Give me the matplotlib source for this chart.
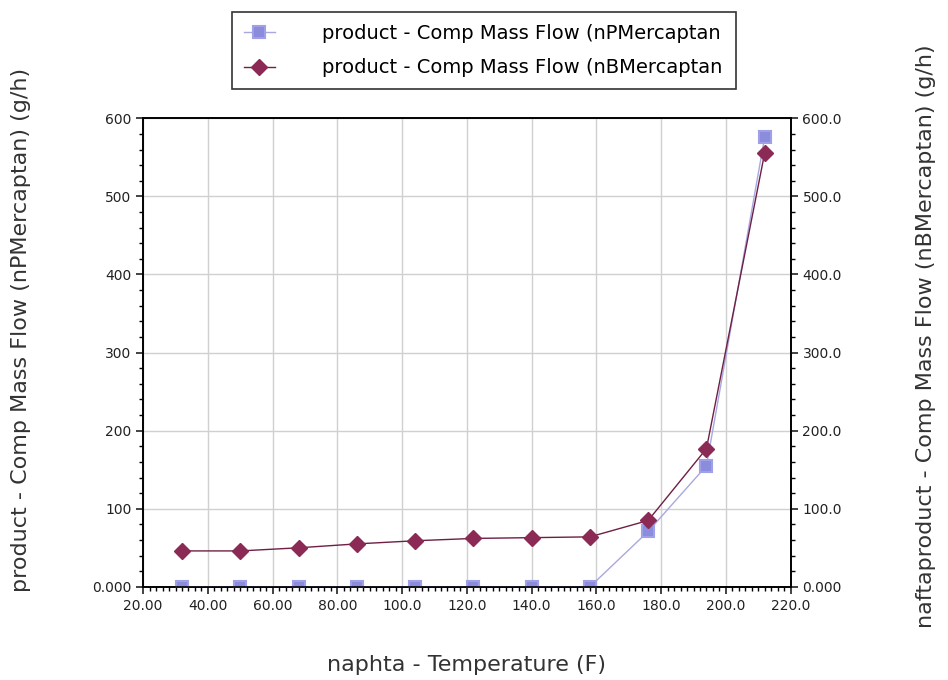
import matplotlib
matplotlib.use("Agg")
import matplotlib.pyplot as plt
from matplotlib.ticker import MultipleLocator, FixedFormatter, FixedLocator

# naphta temperature (F)
temps = [32, 50, 68, 86, 104, 122, 140, 158, 176, 194, 212]
# comp mass flow (g/h)
np_merc = [0, 0, 0, 0, 0, 0, 0, 0, 71, 155, 576]
nb_merc = [46, 46, 50, 55, 59, 62, 63, 64, 85, 177, 556]

x_ticks = [20, 40, 60, 80, 100, 120, 140, 160, 180, 200, 220]
x_labels = ["20.00", "40.00", "60.00", "80.00", "100.0", "120.0", "140.0",
            "160.0", "180.0", "200.0", "220.0"]
y_ticks = [0, 100, 200, 300, 400, 500, 600]
yl_labels = ["0.000", "100", "200", "300", "400", "500", "600"]
yr_labels = ["0.000", "100.0", "200.0", "300.0", "400.0", "500.0", "600.0"]

fig = plt.figure(figsize=(9.48, 6.8), dpi=100)
ax = fig.add_axes([0.151, 0.137, 0.683, 0.689])
ax2 = ax.twinx()

l1, = ax.plot(temps, np_merc, color="#a8a8e0", lw=1.0, marker="s", ms=9,
              mfc="#8c8cdc", mec="#a0a0e8", mew=1.5, zorder=3)
l2, = ax2.plot(temps, nb_merc, color="#6e1f44", lw=1.0, marker="D", ms=8,
               mfc="#8b2a55", mec="#8b2a55", zorder=3)

for a in (ax, ax2):
    a.set_xlim(20, 220)
    a.set_ylim(0, 600)
    a.yaxis.set_major_locator(FixedLocator(y_ticks))
    a.yaxis.set_minor_locator(MultipleLocator(20))
    a.tick_params(which="major", length=5, width=1.2, labelsize=10, colors="#222222")
    a.tick_params(which="minor", length=3, width=1.0)
    for s in a.spines.values():
        s.set_linewidth(1.2)

ax.yaxis.set_major_formatter(FixedFormatter(yl_labels))
ax2.yaxis.set_major_formatter(FixedFormatter(yr_labels))
ax.xaxis.set_major_locator(FixedLocator(x_ticks))
ax.xaxis.set_major_formatter(FixedFormatter(x_labels))
ax.xaxis.set_minor_locator(MultipleLocator(2))
ax.grid(True, which="major", color="#d0d0d0", lw=1.0)
ax.set_axisbelow(True)

ax.set_xlabel("naphta - Temperature (F)", fontsize=16, color="#333333")
ax.xaxis.set_label_coords(0.5, -0.145)
ax.set_ylabel("product - Comp Mass Flow (nPMercaptan) (g/h)", fontsize=16,
              color="#333333")
ax.yaxis.set_label_coords(-0.173, 0.548)
ax2.set_ylabel("naftaproduct - Comp Mass Flow (nBMercaptan) (g/h)", fontsize=16,
               color="#333333")
ax2.yaxis.set_label_coords(1.194, 0.535)

leg = fig.legend([l1, l2],
                 ["product - Comp Mass Flow (nPMercaptan",
                  "product - Comp Mass Flow (nBMercaptan"],
                 loc="upper left", bbox_to_anchor=(0.245, 0.982, 0.531, 0.0),
                 mode="expand", borderaxespad=0, frameon=True, fancybox=False,
                 fontsize=14, handlelength=1.6, borderpad=0.6, labelspacing=0.8,
                 handletextpad=2.4)
leg.get_frame().set_edgecolor("black")
leg.get_frame().set_linewidth(1.2)

fig.savefig("out.png", dpi=100)
